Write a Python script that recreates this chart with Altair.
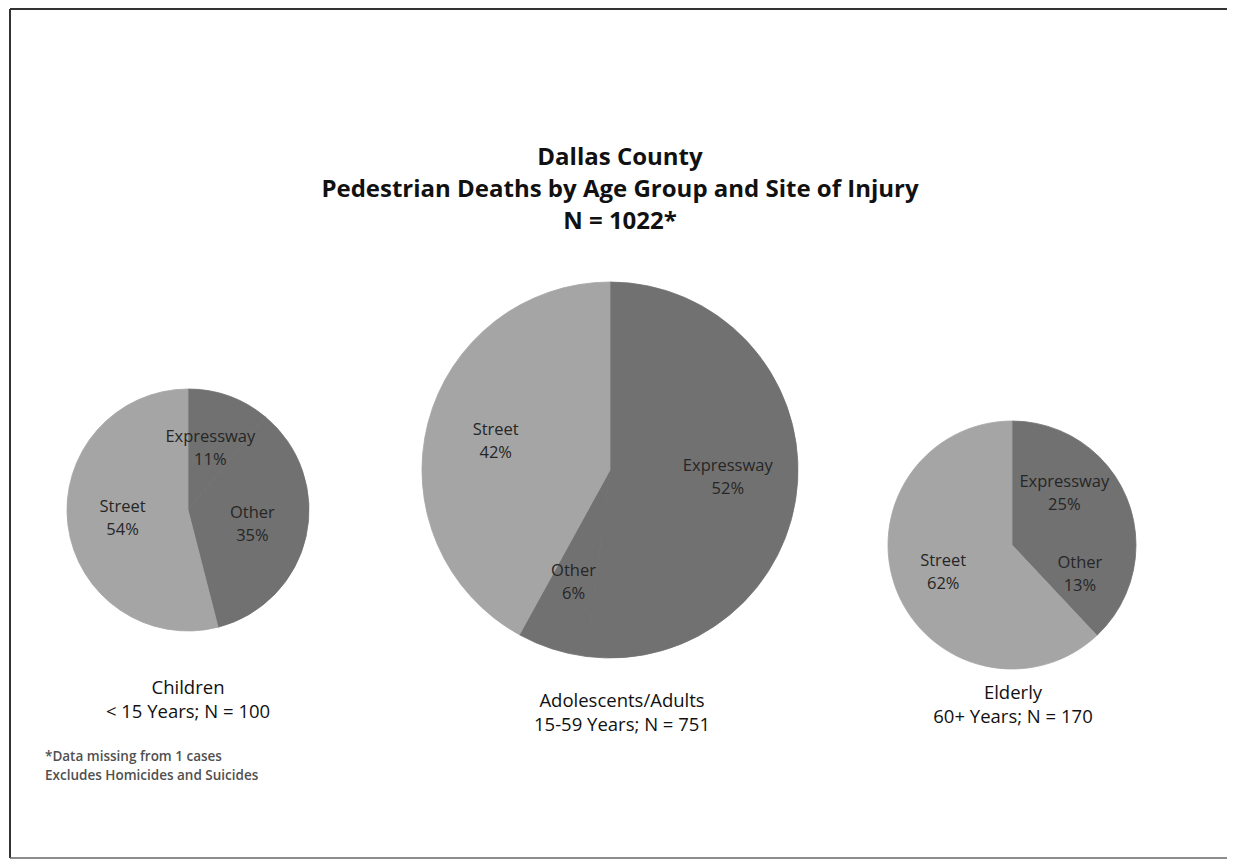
import altair as alt
import pandas as pd

# ---- data ----
groups = ["Children", "Adolescents/Adults", "Elderly"]
group_subtitles = ["< 15 Years; N = 100", "15-59 Years; N = 751", "60+ Years; N = 170"]
sites = ["Expressway", "Other", "Street"]
children_pct = [11, 35, 54]
adults_pct = [52, 6, 42]
elderly_pct = [25, 13, 62]
title_lines = ["Dallas County", "Pedestrian Deaths by Age Group and Site of Injury", "N = 1022*"]
footnote_lines = ["*Data missing from 1 cases", "Excludes Homicides and Suicides"]

# ---- styles ----
site_colors = ["#717171", "#717171", "#a5a5a5"]
FONT = "Open Sans"
W, H = 1219, 851

rows = []
for g, vals in zip(groups, [children_pct, adults_pct, elderly_pct]):
    for i, (s, v) in enumerate(zip(sites, vals)):
        rows.append({"group": g, "site": s, "pct": v, "order": i, "label": f"{s}\n{v}%"})
df = pd.DataFrame(rows)

cap_df = pd.DataFrame({"group": groups,
                       "caption": [f"{n}\n{s}" for n, s in zip(groups, group_subtitles)]})

# layout: pie centre, pie radius, label radius, caption first-line position
layout = {
    "Children": dict(cx=180, cy=502, r=121, lr=66, capx=180, capy=680),
    "Adolescents/Adults": dict(cx=602, cy=462, r=188, lr=118, capx=614, capy=693),
    "Elderly": dict(cx=1004, cy=537, r=124, lr=74, capx=1005, capy=685),
}

site_scale = alt.Scale(domain=sites, range=site_colors)

layers = []
for g in groups:
    L = layout[g]
    base = alt.Chart(df).transform_filter(alt.datum.group == g)
    arc = base.mark_arc(radius=L["r"], strokeWidth=0.8).encode(
        theta=alt.Theta("pct:Q", stack=True),
        color=alt.Color("site:N", scale=site_scale, legend=None),
        stroke=alt.Stroke("site:N", scale=site_scale, legend=None),
        order=alt.Order("order:Q"),
        x=alt.value(L["cx"]),
        y=alt.value(L["cy"]),
    )
    lab = base.mark_text(radius=L["lr"], font=FONT, fontSize=16.5, color="#262626",
                         lineBreak="\n", lineHeight=23, align="center", baseline="middle",
                         dy=-11).encode(
        theta=alt.Theta("pct:Q", stack=True),
        text="label:N",
        order=alt.Order("order:Q"),
        x=alt.value(L["cx"]),
        y=alt.value(L["cy"]),
    )
    cap = alt.Chart(cap_df).transform_filter(alt.datum.group == g).mark_text(
        font=FONT, fontSize=18.5, color="#111111", lineBreak="\n", lineHeight=24,
        align="center", baseline="middle").encode(
        text="caption:N", x=alt.value(L["capx"]), y=alt.value(L["capy"]))
    layers += [arc, lab, cap]

one = pd.DataFrame({"title": ["\n".join(title_lines)], "foot": ["\n".join(footnote_lines)]})
title = alt.Chart(one).mark_text(font=FONT, fontSize=24, fontWeight="bold", color="#111111",
                                 lineBreak="\n", lineHeight=32, align="center",
                                 baseline="middle").encode(
    text="title:N", x=alt.value(612), y=alt.value(150))
foot = alt.Chart(one).mark_text(font=FONT, fontSize=13.5, fontWeight=600, color="#505050",
                                lineBreak="\n", lineHeight=19, align="left",
                                baseline="middle").encode(
    text="foot:N", x=alt.value(37), y=alt.value(749))

frame_top = alt.Chart(one).mark_rule(color="#333333", strokeWidth=2).encode(
    x=alt.value(2), x2=alt.value(W), y=alt.value(1), y2=alt.value(1))
frame_left = alt.Chart(one).mark_rule(color="#333333", strokeWidth=2).encode(
    x=alt.value(2), x2=alt.value(2), y=alt.value(1), y2=alt.value(H - 1))
frame_bottom = alt.Chart(one).mark_rule(color="#666666", strokeWidth=1.5).encode(
    x=alt.value(2), x2=alt.value(W), y=alt.value(H - 1), y2=alt.value(H - 1))

chart = alt.layer(frame_top, frame_left, frame_bottom, title, foot, *layers).properties(
    width=W, height=H,
    autosize=alt.AutoSizeParams(type="none"),
    padding=0,
    background="white",
).configure_view(stroke=None)

chart.save("out.html", embed_options={"renderer": "svg", "actions": False})
